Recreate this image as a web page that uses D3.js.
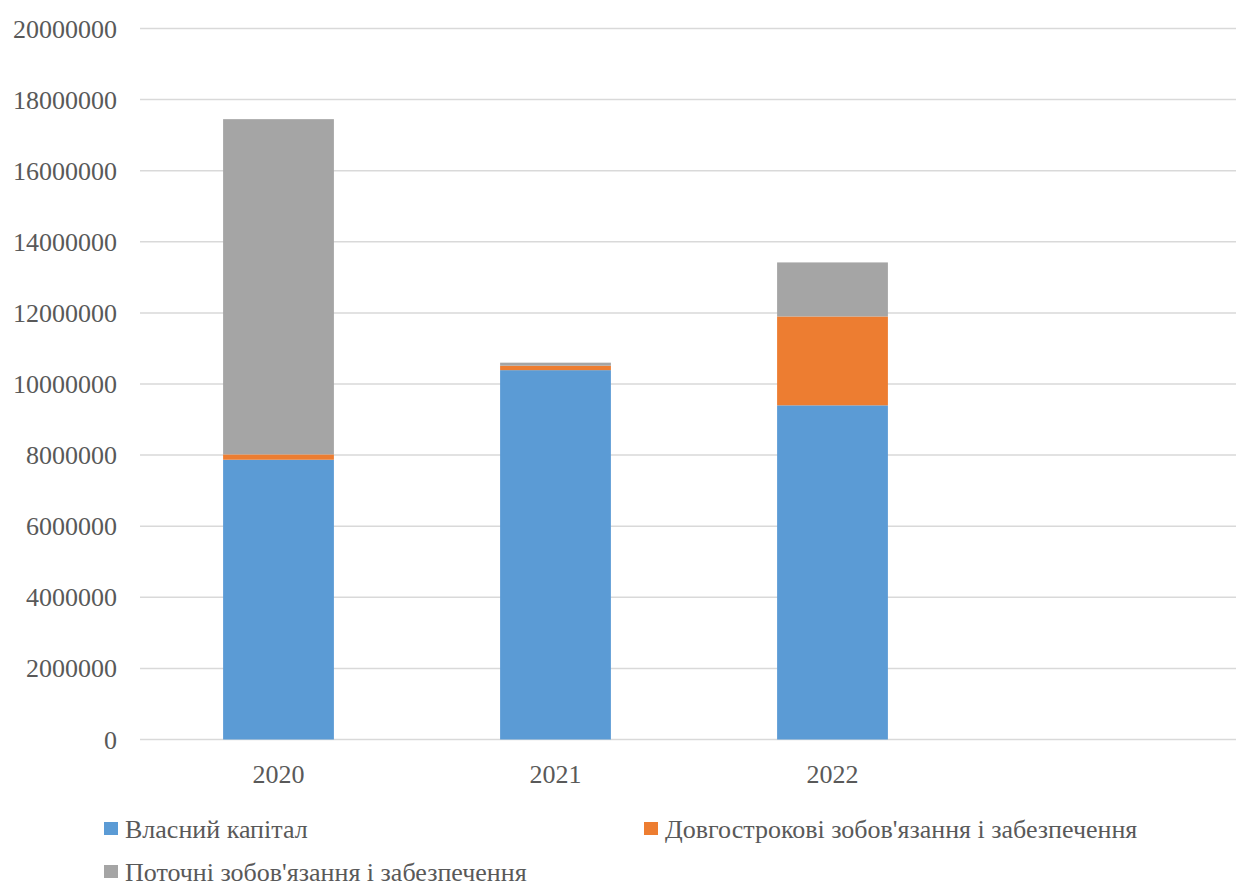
<!DOCTYPE html>
<html>
<head>
<meta charset="utf-8">
<script src="https://cdn.jsdelivr.net/npm/d3@7"></script>
<style>
  html, body { margin: 0; padding: 0; background: #fff; }
  svg { display: block; }
</style>
</head>
<body>
<svg id="chart" width="1236" height="887"></svg>
<script>
// Balance sheet liabilities structure by year
const years = ["2020", "2021", "2022", ""];
const seriesNames = [
  "Власний капітал",
  "Довгострокові зобов'язання і забезпечення",
  "Поточні зобов'язання і забезпечення"
];
const equity = [7870000, 10390000, 9400000, null];
const longTerm = [150000, 125000, 2500000, null];
const current = [9430000, 85000, 1520000, null];
const colors = ["#5b9bd5", "#ed7d31", "#a5a5a5"];
const yTicks = [0, 2000000, 4000000, 6000000, 8000000, 10000000, 12000000, 14000000, 16000000, 18000000, 20000000];

const FONT = "'Liberation Serif', 'Times New Roman', Tinos, 'DejaVu Serif', 'Noto Serif', FreeSerif, serif";

(function draw() {
  const svg = d3.select("#chart");
  const W = 1236, H = 887;
  const plotLeft = 140, plotRight = 1248, plotTop = 28.5, plotBottom = 739.5;

  const rows = years.map((yr, i) => ({
    year: yr,
    s0: equity[i] || 0,
    s1: longTerm[i] || 0,
    s2: current[i] || 0
  }));

  const x = d3.scaleBand().domain(years).range([plotLeft, plotRight]).paddingInner(0.6).paddingOuter(0.3);
  const y = d3.scaleLinear().domain([0, 20000000]).range([plotBottom, plotTop]);

  // horizontal gridlines, clipped to the visible area
  svg.append("clipPath").attr("id", "vp").append("rect")
    .attr("x", 0).attr("y", 0).attr("width", W).attr("height", H);

  svg.append("g").attr("clip-path", "url(#vp)")
    .selectAll("line").data(yTicks).join("line")
    .attr("x1", plotLeft).attr("x2", plotRight)
    .attr("y1", d => y(d)).attr("y2", d => y(d))
    .attr("stroke", "#d9d9d9").attr("stroke-width", 1.5);

  // y-axis labels
  const yAxis = d3.axisLeft(y).tickValues(yTicks).tickSize(0).tickPadding(0).tickFormat(d3.format("d"));
  const gy = svg.append("g").attr("transform", "translate(117,0)").call(yAxis);
  gy.attr("font-family", FONT).attr("font-size", 26);
  gy.select(".domain").remove();
  gy.selectAll("text").style("font-family", FONT).style("font-size", "26px")
    .attr("fill", "#595959").attr("dy", "0.33em");

  // stacked bars
  const stack = d3.stack().keys(["s0", "s1", "s2"]);
  const layers = stack(rows.filter(r => r.year !== ""));
  svg.append("g").selectAll("g").data(layers).join("g")
    .attr("fill", (d, i) => colors[i])
    .selectAll("rect").data(d => d).join("rect")
    .attr("x", d => x(d.data.year))
    .attr("width", x.bandwidth())
    .attr("y", d => y(d[1]))
    .attr("height", d => y(d[0]) - y(d[1]));

  // x-axis labels
  const xAxis = d3.axisBottom(x).tickSize(0).tickPadding(0);
  const gx = svg.append("g").attr("transform", `translate(0,${plotBottom})`).call(xAxis);
  gx.attr("font-family", FONT).attr("font-size", 26);
  gx.select(".domain").remove();
  gx.selectAll("text").style("font-family", FONT).style("font-size", "26px")
    .attr("fill", "#595959").attr("dy", null).attr("y", 43);

  // legend
  const legendPos = [[104, 838], [644, 838], [104, 881]];
  const lg = svg.append("g").selectAll("g").data(seriesNames).join("g")
    .attr("transform", (d, i) => `translate(${legendPos[i][0]},${legendPos[i][1]})`);
  lg.append("rect").attr("x", 0).attr("y", -16).attr("width", 14).attr("height", 13)
    .attr("fill", (d, i) => colors[i]);
  lg.append("text").attr("x", 21).attr("y", 0)
    .style("font-family", FONT).style("font-size", "26px")
    .attr("fill", "#595959").text(d => d);
})();
</script>
</body>
</html>
